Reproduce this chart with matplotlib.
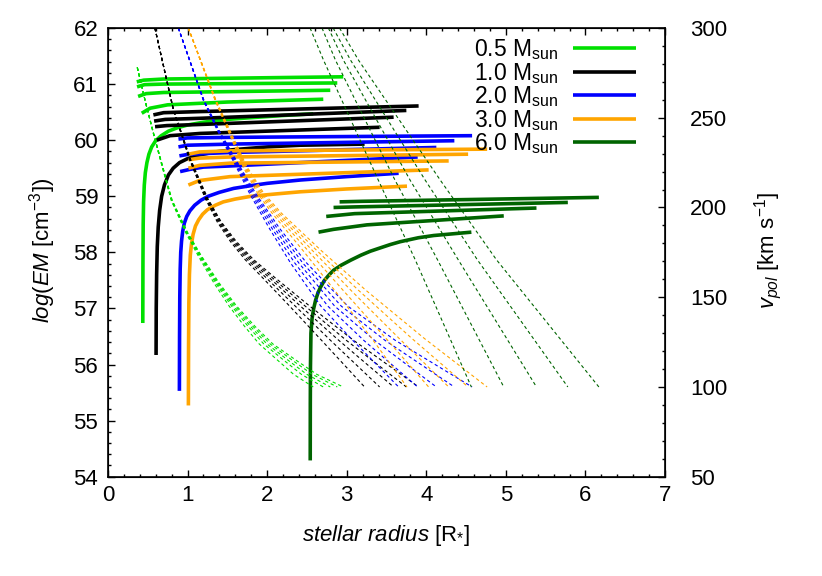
import matplotlib
matplotlib.use('Agg')
import matplotlib.pyplot as plt
from matplotlib.ticker import MultipleLocator

plt.rcParams['font.family'] = 'Liberation Sans'
plt.rcParams['font.size'] = 16
plt.rcParams['mathtext.fontset'] = 'custom'
plt.rcParams['mathtext.rm'] = 'Liberation Sans'
plt.rcParams['mathtext.it'] = 'Liberation Sans:italic'

masses = ['0.5', '1.0', '2.0', '3.0', '6.0']
colors = ['#00e000', 'black', '#0000ff', '#ffa500', '#006400']

# emission measure curves (left axis): first one starts at the stellar surface
r05 = [[0.438, 0.44, 0.443, 0.448, 0.457, 0.47, 0.49, 0.515, 0.55, 0.60, 0.67, 0.76, 0.87, 1.0,
        1.2, 1.5, 1.787, 2.2, 2.58],
       [0.362, 0.45, 0.70, 2.957],
       [0.366, 0.46, 0.70, 2.882],
       [0.379, 0.48, 0.70, 2.794],
       [0.425, 0.53, 0.75, 1.5, 2.706]]
em05 = [[56.74, 57.8, 58.5, 58.9, 59.2, 59.42, 59.6, 59.75, 59.88, 59.99, 60.08, 60.16, 60.22, 60.27,
         60.32, 60.37, 60.40, 60.44, 60.47],
        [61.04, 61.07, 61.09, 61.13],
        [60.95, 60.99, 61.0, 61.02],
        [60.78, 60.83, 60.85, 60.89],
        [60.48, 60.57, 60.63, 60.68, 60.73]]

r10 = [[0.605, 0.607, 0.612, 0.62, 0.632, 0.65, 0.675, 0.71, 0.76, 0.82, 0.90, 1.0, 1.16, 1.35,
        1.574, 2.0, 2.416, 3.225],
       [0.571, 0.70, 1.16, 3.904],
       [0.58, 0.72, 1.16, 3.75],
       [0.592, 0.74, 1.16, 3.59],
       [0.614, 0.78, 1.16, 3.414]]
em10 = [[56.17, 57.0, 57.6, 58.1, 58.45, 58.75, 59.0, 59.2, 59.38, 59.5, 59.6, 59.67, 59.74, 59.79,
         59.83, 59.88, 59.91, 59.93],
        [60.45, 60.49, 60.51, 60.61],
        [60.34, 60.37, 60.39, 60.53],
        [60.24, 60.26, 60.28, 60.41],
        [60.00, 60.08, 60.12, 60.23]]

r20 = [[0.898, 0.900, 0.903, 0.908, 0.915, 0.925, 0.94, 0.96, 0.99, 1.03, 1.09, 1.17, 1.26, 1.40,
        1.58, 1.80, 2.00, 2.42, 3.0, 3.653],
       [0.886, 1.0, 1.536, 4.576],
       [0.886, 1.0, 1.536, 4.353],
       [0.898, 1.02, 1.536, 4.127],
       [0.907, 1.033, 1.2, 1.536, 3.892]]
em20 = [[55.53, 56.5, 57.2, 57.7, 58.0, 58.2, 58.38, 58.52, 58.64, 58.74, 58.84, 58.93, 59.00, 59.07,
         59.14, 59.19, 59.23, 59.29, 59.35, 59.41],
        [60.02, 60.04, 60.05, 60.08],
        [59.88, 59.91, 59.93, 59.99],
        [59.72, 59.75, 59.78, 59.87],
        [59.44, 59.48, 59.52, 59.54, 59.70]]

r30 = [[1.011, 1.013, 1.017, 1.024, 1.035, 1.05, 1.07, 1.10, 1.14, 1.19, 1.25, 1.35, 1.45, 1.60,
        1.80, 2.10, 2.42, 3.0, 3.758],
       [1.011, 1.15, 1.536, 4.765],
       [1.011, 1.15, 1.536, 4.526],
       [1.011, 1.15, 1.536, 4.282],
       [1.011, 1.15, 1.536, 4.030]]
em30 = [[55.27, 56.3, 57.1, 57.6, 57.95, 58.15, 58.32, 58.47, 58.58, 58.68, 58.76, 58.84, 58.90, 58.95,
         59.0, 59.04, 59.08, 59.13, 59.18],
        [59.75, 59.79, 59.81, 59.84],
        [59.65, 59.68, 59.70, 59.75],
        [59.50, 59.55, 59.59, 59.63],
        [59.20, 59.28, 59.35, 59.47]]

r60 = [[2.542, 2.543, 2.545, 2.551, 2.565, 2.584, 2.61, 2.64, 2.668, 2.72, 2.78, 2.835, 2.93, 3.05,
        3.18, 3.297, 3.423, 3.55, 3.674, 3.9, 4.093, 4.33, 4.567],
       [2.911, 3.2, 6.169],
       [2.835, 3.1, 5.779],
       [2.743, 3.1, 5.385],
       [2.646, 2.835, 3.255, 4.974]]
em60 = [[54.29, 55.3, 55.96, 56.56, 56.82, 56.99, 57.15, 57.28, 57.37, 57.5, 57.6, 57.68, 57.77, 57.86,
         57.95, 58.02, 58.08, 58.14, 58.19, 58.26, 58.3, 58.33, 58.36],
        [58.90, 58.91, 58.98],
        [58.80, 58.81, 58.89],
        [58.64, 58.69, 58.79],
        [58.36, 58.41, 58.49, 58.65]]

# polar velocity curves (right axis), radii at shared velocity levels
v05 = [278, 259, 240, 222, 204, 186, 173, 158, 145, 134, 124, 114, 107, 100]
vr05 = [[0.369, 0.47, 0.578, 0.686, 0.795, 0.977, 1.135, 1.331, 1.524, 1.713, 1.900, 2.155, 2.334, 2.58],
        [0.369, 0.47, 0.579, 0.688, 0.799, 0.985, 1.149, 1.353, 1.555, 1.757, 1.957, 2.235, 2.432, 2.706],
        [0.369, 0.47, 0.58, 0.69, 0.802, 0.991, 1.158, 1.368, 1.577, 1.787, 1.997, 2.29, 2.50, 2.794],
        [0.369, 0.47, 0.581, 0.692, 0.805, 0.997, 1.167, 1.383, 1.599, 1.817, 2.037, 2.345, 2.568, 2.882],
        [0.369, 0.47, 0.581, 0.693, 0.807, 1.002, 1.175, 1.396, 1.618, 1.843, 2.071, 2.393, 2.626, 2.957]]

v10 = [300, 255, 227, 205, 192, 181, 171, 162, 145, 126, 100]
vr10 = [[0.59, 0.818, 1.022, 1.223, 1.373, 1.540, 1.723, 1.919, 2.284, 2.684, 3.225],
        [0.59, 0.819, 1.026, 1.232, 1.387, 1.561, 1.752, 1.961, 2.355, 2.796, 3.414],
        [0.59, 0.82, 1.03, 1.24, 1.40, 1.58, 1.78, 2.00, 2.42, 2.90, 3.59],
        [0.59, 0.821, 1.033, 1.248, 1.412, 1.597, 1.805, 2.035, 2.480, 2.995, 3.75],
        [0.59, 0.822, 1.037, 1.255, 1.423, 1.614, 1.829, 2.069, 2.537, 3.086, 3.904]]

v20 = [300, 260, 243, 224, 207, 188, 169, 145, 126, 100]
vr20 = [[0.885, 1.196, 1.374, 1.596, 1.790, 2.033, 2.296, 2.676, 3.076, 3.653],
        [0.885, 1.198, 1.379, 1.608, 1.810, 2.067, 2.349, 2.764, 3.214, 3.892],
        [0.885, 1.20, 1.385, 1.62, 1.83, 2.10, 2.40, 2.85, 3.35, 4.127],
        [0.885, 1.202, 1.390, 1.632, 1.849, 2.132, 2.449, 2.933, 3.481, 4.353],
        [0.885, 1.204, 1.396, 1.643, 1.868, 2.163, 2.498, 3.015, 3.610, 4.576]]

v30 = [300, 260, 241, 223, 208, 197, 176, 154, 127, 100]
vr30 = [[1.01, 1.344, 1.526, 1.695, 1.879, 2.060, 2.451, 2.846, 3.316, 3.758],
        [1.01, 1.347, 1.533, 1.708, 1.901, 2.091, 2.513, 2.952, 3.495, 4.03],
        [1.01, 1.35, 1.54, 1.72, 1.92, 2.12, 2.57, 3.05, 3.66, 4.282],
        [1.01, 1.353, 1.546, 1.731, 1.939, 2.148, 2.625, 3.145, 3.820, 4.526],
        [1.01, 1.355, 1.553, 1.743, 1.957, 2.176, 2.680, 3.238, 3.977, 4.765]]

v60 = [300, 282, 215, 171, 100]
vr60 = [[2.54, 2.71, 3.40, 3.86, 4.567],
        [2.69, 2.86, 3.61, 4.14, 4.974],
        [2.77, 2.96, 3.80, 4.40, 5.385],
        [2.83, 3.05, 3.99, 4.64, 5.779],
        [2.91, 3.15, 4.18, 4.88, 6.169]]

r_all = [r05, r10, r20, r30, r60]
em_all = [em05, em10, em20, em30, em60]
v_all = [v05, v10, v20, v30, v60]
vr_all = [vr05, vr10, vr20, vr30, vr60]

fig = plt.figure(figsize=(8.22, 5.76), dpi=100)
ax = fig.add_axes([0.1313, 0.1724, 0.6777, 0.779])
ax2 = ax.twinx()

handles = []
for i in range(len(masses)):
    for j in range(len(r_all[i])):
        ln, = ax.plot(r_all[i][j], em_all[i][j], color=colors[i], lw=2.6,
                      solid_capstyle='butt', solid_joinstyle='round')
        if j == 0:
            handles.append(ln)
    for xs in vr_all[i]:
        ax2.plot(xs, v_all[i], color=colors[i], lw=0.8, ls=(0, (3, 2.5)))

ax.set_xlim(0, 7)
ax.set_ylim(54, 62)
ax2.set_ylim(50, 300)
ax.xaxis.set_major_locator(MultipleLocator(1))
ax.xaxis.set_minor_locator(MultipleLocator(0.2))
ax.yaxis.set_major_locator(MultipleLocator(1))
ax.yaxis.set_minor_locator(MultipleLocator(0.2))
ax2.yaxis.set_major_locator(MultipleLocator(50))
ax2.yaxis.set_minor_locator(MultipleLocator(10))

ax.tick_params(which='both', direction='in', top=True, right=False, width=1)
ax.tick_params(which='major', length=5)
ax.tick_params(which='minor', length=2.5)
ax.tick_params(axis='y', pad=7)
ax.tick_params(axis='x', pad=6)
ax2.tick_params(which='both', direction='in', right=True, left=False, width=1)
ax2.tick_params(which='major', length=5, pad=18)
ax2.tick_params(which='minor', length=2.5)
for s in ax2.spines.values():
    s.set_linewidth(1.2)

ax.set_xlabel(r'$\mathit{stellar\ radius}$ [R$_{*}$]')
ax.set_ylabel(r'$\mathit{log(EM}$ [cm$^{-3}$]$\mathit{)}$')
ax2.set_ylabel(r'$\mathit{v_{pol}}$ [km s$^{-1}$]')
ax.xaxis.set_label_coords(0.499, -0.103)
ax.yaxis.set_label_coords(-0.09, 0.505)
ax2.yaxis.set_label_coords(1.156, 0.505)

ax2.legend(handles, [m + r' M$_{\mathrm{sun}}$' for m in masses],
           loc='upper right', bbox_to_anchor=(0.973, 1.01), frameon=False,
           markerfirst=False, handlelength=2.75, handletextpad=0.65,
           labelspacing=-0.06, borderaxespad=0.2, fontsize=16.5)

fig.savefig('out.png', dpi=100)
